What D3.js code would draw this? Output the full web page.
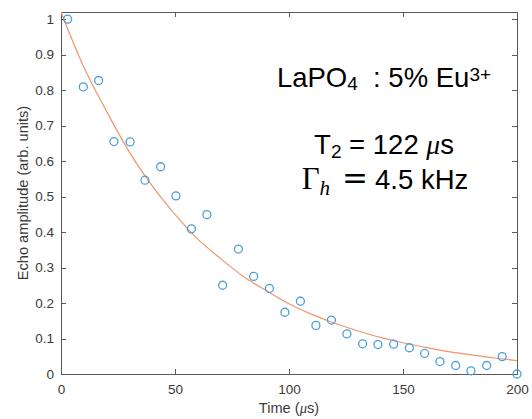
<!DOCTYPE html>
<meta charset="utf-8">
<style>
  body { margin: 0; background: #fff; }
  svg text { font-family: "Liberation Sans", Arial, sans-serif; }
  .axis path, .axis line { stroke: #5a5a5a; stroke-width: 1px; shape-rendering: crispEdges; }
  .axis text { fill: #3a3a3a; font-size: 13.5px; font-family: "Liberation Sans", Arial, sans-serif; }
  .fit { fill: none; stroke: #f0956b; stroke-width: 1.2px; }
  .dot { fill: none; stroke: #4a9fdb; stroke-width: 1.3px; }
  .note { fill: #000; font-size: 27.5px; }
  .tex { font-family: "Liberation Serif", "DejaVu Serif", serif; }
</style>
<body>
<div id="chart"></div>

<script src="https://d3js.org/d3.v7.min.js"></script>
<script>

  // measured echo points
  var timeUs = [2.9, 9.8, 16.5, 23.2, 30.3, 36.8, 43.7, 50.4, 57.2, 64.0,
                70.9, 77.8, 84.5, 91.4, 98.2, 105.0, 111.8, 118.6, 125.4, 132.3,
                139.0, 145.9, 152.8, 159.5, 166.2, 173.1, 179.8, 186.7, 193.5, 200.0]
  var echoAmp = [1.0, 0.809, 0.827, 0.655, 0.654, 0.546, 0.584, 0.502, 0.409, 0.449,
                 0.250, 0.352, 0.275, 0.241, 0.174, 0.205, 0.137, 0.152, 0.113, 0.085,
                 0.083, 0.084, 0.074, 0.058, 0.035, 0.024, 0.009, 0.024, 0.049, 0.000]

  // fitted decay curve
  var fitTime = [0, 10, 20, 30, 40, 50, 60, 70, 80, 90, 100,
                 110, 120, 130, 140, 150, 160, 170, 180, 190, 200]
  var fitAmp = [1.02, 0.865, 0.74, 0.625, 0.53, 0.45, 0.38, 0.325, 0.275, 0.235, 0.198,
                0.168, 0.143, 0.122, 0.103, 0.088, 0.075, 0.063, 0.054, 0.045, 0.038]

  var xTicks = [0, 50, 100, 150, 200]
  var yTicks = [0, 0.1, 0.2, 0.3, 0.4, 0.5, 0.6, 0.7, 0.8, 0.9, 1]

  var margin = {top: 12, right: 15, bottom: 45, left: 61},
      width = 532 - margin.left - margin.right,
      height = 419 - margin.top - margin.bottom;

  var root = d3.select("#chart")
    .append("svg")
      .attr("width", 532)
      .attr("height", 419)

  var svg = root.append("g")
      .attr("transform", "translate(" + margin.left + "," + margin.top + ")");

  var x = d3.scaleLinear().domain([0, 200]).range([0, width])
  var y = d3.scaleLinear().domain([0, 1.02]).range([height, 0])

  svg.append("defs").append("clipPath")
      .attr("id", "plotclip")
    .append("rect")
      .attr("width", width)
      .attr("height", height)

  // box with inward ticks on all four sides
  svg.append("g")
    .attr("class", "axis")
    .attr("transform", "translate(0," + height + ")")
    .call(d3.axisBottom(x).tickValues(xTicks).tickSizeInner(-5).tickSizeOuter(0).tickPadding(10))

  svg.append("g")
    .attr("class", "axis")
    .call(d3.axisLeft(y).tickValues(yTicks).tickSizeInner(-5).tickSizeOuter(0).tickPadding(7)
      .tickFormat(function(d) { return d3.format("~g")(d) }))

  svg.append("g")
    .attr("class", "axis")
    .call(d3.axisTop(x).tickValues(xTicks).tickSizeInner(-5).tickSizeOuter(0).tickFormat(""))

  svg.append("g")
    .attr("class", "axis")
    .attr("transform", "translate(" + width + ",0)")
    .call(d3.axisRight(y).tickValues(yTicks).tickSizeInner(-5).tickSizeOuter(0).tickFormat(""))

  var fitData = fitTime.map(function(t, i) { return [t, fitAmp[i]] })

  svg.append("path")
    .datum(fitData)
    .attr("class", "fit")
    .attr("clip-path", "url(#plotclip)")
    .attr("d", d3.line()
      .x(function(d) { return x(d[0]) })
      .y(function(d) { return y(d[1]) })
      .curve(d3.curveMonotoneX))

  svg.selectAll(".dot")
    .data(timeUs)
    .enter().append("circle")
      .attr("class", "dot")
      .attr("cx", function(d) { return x(d) })
      .attr("cy", function(d, i) { return y(echoAmp[i]) })
      .attr("r", 4)

  // axis titles
  var xl = root.append("text")
    .attr("x", margin.left + width / 2)
    .attr("y", 413)
    .attr("text-anchor", "middle")
    .style("font-size", "14.6px")
    .style("fill", "#3a3a3a")
  xl.append("tspan").text("Time (")
  xl.append("tspan").attr("class", "tex").style("font-style", "italic").text("\u03bc")
  xl.append("tspan").text("s)")

  root.append("text")
    .attr("transform", "translate(27.5," + (margin.top + height / 2) + ") rotate(-90)")
    .attr("text-anchor", "middle")
    .style("font-size", "14.6px")
    .style("fill", "#3a3a3a")
    .text("Echo amplitude (arb. units)")

  // annotations
  var t1 = root.append("text").attr("class", "note")
    .attr("x", 384).attr("y", 87).attr("text-anchor", "middle")
  t1.append("tspan").text("LaPO")
  t1.append("tspan").attr("dy", 3).style("font-size", "19px").text("4")
  t1.append("tspan").attr("dy", -3).text("\u00a0 : 5% Eu")
  t1.append("tspan").attr("dy", -6).style("font-size", "19px").text("3+")

  var t2 = root.append("text").attr("class", "note")
    .attr("x", 384).attr("y", 154).attr("text-anchor", "middle")
  t2.append("tspan").text("T")
  t2.append("tspan").attr("dy", 4).style("font-size", "19px").text("2")
  t2.append("tspan").attr("dy", -4).text(" = 122 ")
  t2.append("tspan").attr("class", "tex").style("font-style", "italic").text("\u03bc")
  t2.append("tspan").text("s")

  var t3 = root.append("text").attr("class", "note")
    .attr("x", 385).attr("y", 189).attr("text-anchor", "middle")
  t3.append("tspan").attr("class", "tex").style("font-size", "31px").text("\u0393")
  t3.append("tspan").attr("class", "tex").attr("dy", 6).style("font-size", "21px").style("font-style", "italic").text("h")
  t3.append("tspan").attr("dx", 12).attr("dy", -6).style("font-family", "'DejaVu Serif', serif").style("font-size", "31px").text("=")
  t3.append("tspan").attr("dx", 7).text("4.5 kHz")

</script>
